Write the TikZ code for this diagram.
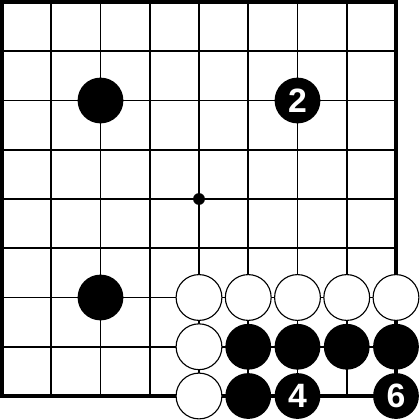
\documentclass[tikz,border=0pt]{standalone}
\usepackage{fontspec}
\newfontfamily\stonefont{Liberation Sans}
\usepackage{tikz}
\usetikzlibrary{positioning}
\tikzstyle{stone}=[circle,minimum size=0.93cm,inner sep=0pt]
\tikzstyle{black stone}=[stone,fill=black,text=white,font=\stonefont\bfseries\fontsize{19.5}{19.5}\selectfont]
\tikzstyle{white stone}=[stone,draw=black,fill=white,line width=0.65pt]

\begin{document}
\begin{tikzpicture}[
  x=1cm,y=1cm,
  board/.style={line width=1pt},
  edge/.style={line width=1.8pt},
  hoshi/.style={circle,fill=black,minimum size=0.24cm,inner sep=0pt},
]
\useasboundingbox (-0.0406,-0.4873) rectangle (8.4873,8.0406);
  % lines of the board
  \draw[board,step=1] (0,0) grid (8,8);
  \draw[edge] (0,0) rectangle (8,8);
  \node[hoshi] (tengen) at (4,4) {};
  % black
  \node[black stone] (b26) at (2,6) {};
  \node[black stone] (b22) at (2,2) {};
  \node[black stone] (b66) at (6,6) {2};
  \node[black stone] (b51) at (5,1) {};
  \node[black stone] (b61) at (6,1) {};
  \node[black stone] (b71) at (7,1) {};
  \node[black stone] (b81) at (8,1) {};
  \node[black stone] (b50) at (5,0) {};
  \node[black stone] (b60) at (6,0) {4};
  \node[black stone] (b80) at (8,0) {6};
  % white
  \node[white stone] (w42) at (4,2) {};
  \node[white stone] (w52) at (5,2) {};
  \node[white stone] (w62) at (6,2) {};
  \node[white stone] (w72) at (7,2) {};
  \node[white stone] (w82) at (8,2) {};
  \node[white stone] (w41) at (4,1) {};
  \node[white stone] (w40) at (4,0) {};
\end{tikzpicture}
\end{document}
